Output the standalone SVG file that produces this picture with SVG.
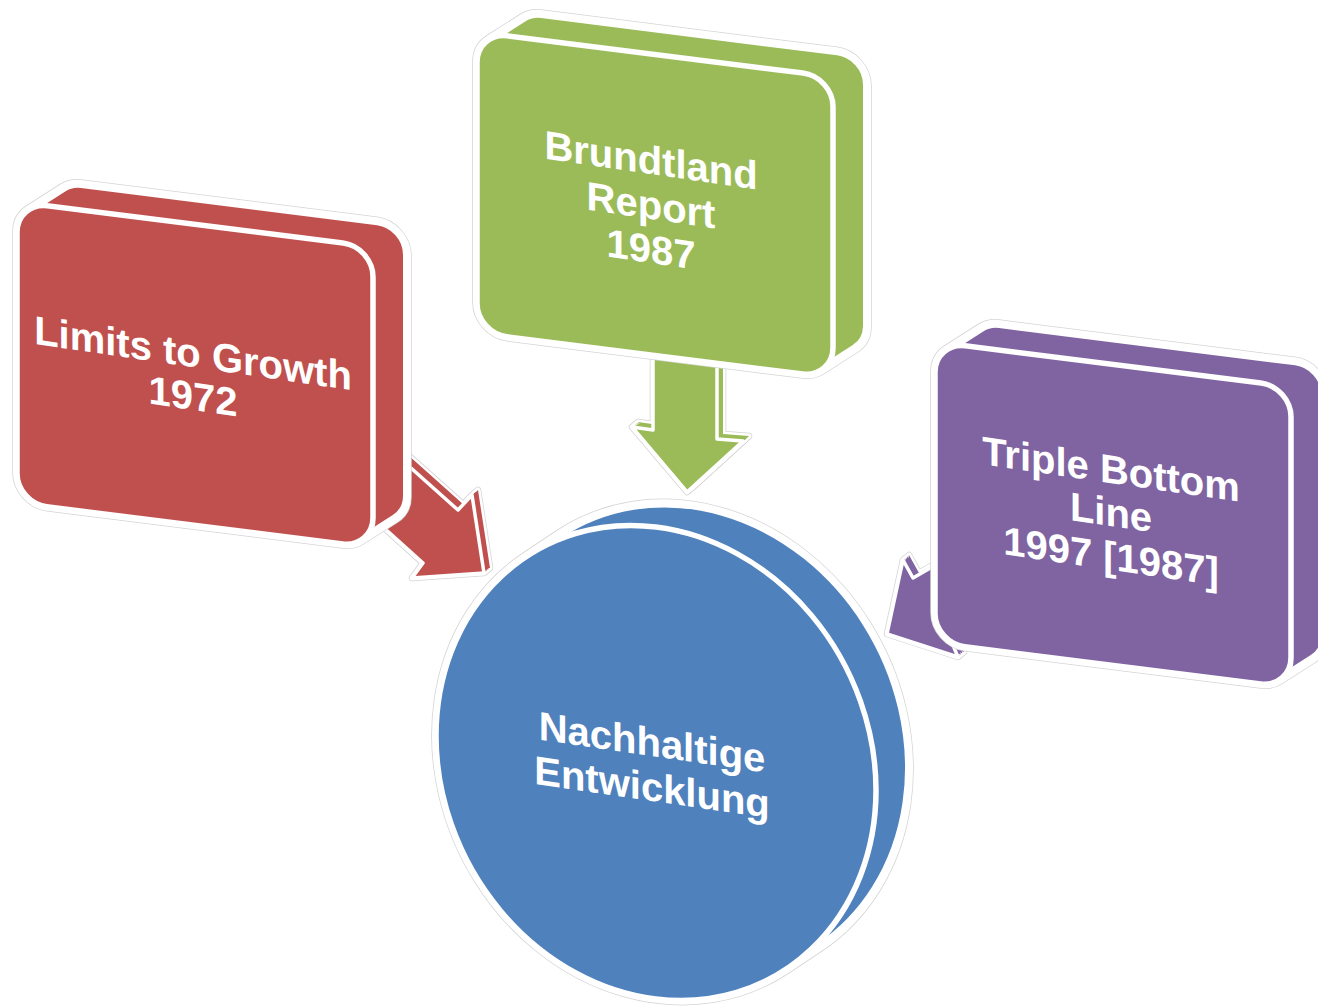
<svg xmlns="http://www.w3.org/2000/svg" width="1318" height="1006" viewBox="0 0 1318 1006">
<style>
.red{fill:#C0504D}
.green{fill:#9BBB59}
.purple{fill:#8064A2}
.blue{fill:#4F81BD}
.halo{fill:none;stroke:#d4d4d4;stroke-width:9.5;stroke-linejoin:round}
.rim{stroke:#ffffff;stroke-width:8;stroke-linejoin:round}
.face{stroke:#ffffff;stroke-width:5.5;stroke-linejoin:round}
.ahalo{fill:none;stroke:#d4d4d4;stroke-width:6.5;stroke-linejoin:round}
.arim{fill:none;stroke:#ffffff;stroke-width:5;stroke-linejoin:round}
.aface{stroke:#ffffff;stroke-width:3.5;stroke-linejoin:round}
.lbl{font-family:"Liberation Sans",Arial,sans-serif;font-weight:bold;font-size:40px;fill:#ffffff;text-anchor:middle}
</style>
<defs>
<path id="hull" d="M0,30 A30,30 0 0 1 11.8,6.2 L45.8,-19.8 A30,30 0 0 1 64,-26 L360,-26 A30,30 0 0 1 390,4 L390,245 A30,30 0 0 1 378.2,268.8 L344.2,294.8 A30,30 0 0 1 326,301 L30,301 A30,30 0 0 1 0,271 Z"/>
<rect id="face" x="0" y="0" width="356" height="301" rx="30" ry="30"/>
<path id="chull" d="M-130.3,-190.2 L-97.3,-216.3 A220,236 0 0 1 210.3,-165.8 A220,236 0 0 1 163.3,164.1 L130.3,190.2 A220,236 0 0 1 -177.3,139.7 A220,236 0 0 1 -130.3,-190.2 Z"/>
<polygon id="arR" points="383,443 458,510 472,495 484,573 412,578 423,563 333,482"/>
<polygon id="arG" points="653,340 717,340 717,439 743,441 687,492 632,427 653,430"/>
<polygon id="arP" points="965,548 913,578 903,560 887,634 958,657 952,643 1004,613"/>
<g id="ext-arR"><use href="#arR"/><use href="#arR" transform="translate(1.5,-1.25)"/><use href="#arR" transform="translate(3,-2.5)"/><use href="#arR" transform="translate(4.5,-3.75)"/><use href="#arR" transform="translate(6,-5)"/></g>
<g id="ext-arG"><use href="#arG"/><use href="#arG" transform="translate(1.5,-1.25)"/><use href="#arG" transform="translate(3,-2.5)"/><use href="#arG" transform="translate(4.5,-3.75)"/><use href="#arG" transform="translate(6,-5)"/></g>
<g id="ext-arP"><use href="#arP"/><use href="#arP" transform="translate(1.5,-1.25)"/><use href="#arP" transform="translate(3,-2.5)"/><use href="#arP" transform="translate(4.5,-3.75)"/><use href="#arP" transform="translate(6,-5)"/></g>
</defs>
<rect x="0" y="0" width="1318" height="1006" fill="#ffffff"/>

<g id="node-center">
 <g transform="matrix(1,0.124,0,1,656,763)">
  <use href="#chull" class="halo"/>
  <use href="#chull" class="blue rim"/>
  <ellipse cx="0" cy="0" rx="220" ry="236" class="blue face"/>
 </g>
 <text class="lbl" transform="translate(652,756) skewY(8.3)"><tspan x="0" y="0">Nachhaltige</tspan><tspan x="0" y="45">Entwicklung</tspan></text>
</g>

<g id="connectors">
 <g id="arrow-limits">
  <use href="#ext-arR" class="ahalo"/>
  <use href="#ext-arR" class="arim"/>
  <use href="#ext-arR" class="red"/>
  <use href="#arR" class="red aface"/>
 </g>
 <g id="arrow-brundtland">
  <use href="#ext-arG" class="ahalo"/>
  <use href="#ext-arG" class="arim"/>
  <use href="#ext-arG" class="green"/>
  <use href="#arG" class="green aface"/>
 </g>
 <g id="arrow-tbl">
  <use href="#ext-arP" class="ahalo"/>
  <use href="#ext-arP" class="arim"/>
  <use href="#ext-arP" class="purple"/>
  <use href="#arP" class="purple aface"/>
 </g>
</g>

<g id="node-limits">
 <g transform="matrix(1,0.126,0,1,17,202)">
  <use href="#hull" class="halo"/>
  <use href="#hull" class="red rim"/>
  <use href="#face" class="red face"/>
 </g>
 <text class="lbl" transform="translate(193,367) skewY(8.3)"><tspan x="0" y="0">Limits to Growth</tspan><tspan x="0" y="43">1972</tspan></text>
</g>

<g id="node-brundtland">
 <g transform="matrix(1,0.126,0,1,477,32)">
  <use href="#hull" class="halo"/>
  <use href="#hull" class="green rim"/>
  <use href="#face" class="green face"/>
 </g>
 <text class="lbl" transform="translate(651,174) skewY(8.3)"><tspan x="0" y="0">Brundtland</tspan><tspan x="0" y="45">Report</tspan><tspan x="0" y="89">1987</tspan></text>
</g>

<g id="node-tbl">
 <g transform="matrix(1,0.126,0,1,935,342)">
  <use href="#hull" class="halo"/>
  <use href="#hull" class="purple rim"/>
  <use href="#face" class="purple face"/>
 </g>
 <text class="lbl" transform="translate(1111,483) skewY(8.3)"><tspan x="0" y="0">Triple Bottom</tspan><tspan x="0" y="43">Line</tspan><tspan x="0" y="87">1997 [1987]</tspan></text>
</g>
</svg>
